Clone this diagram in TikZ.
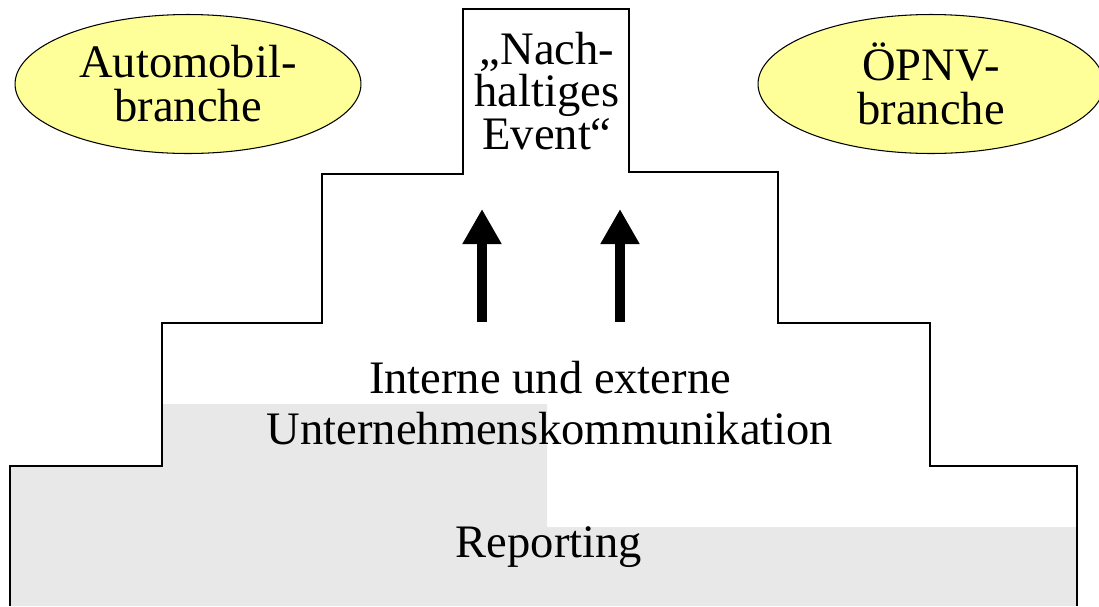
\documentclass[tikz,border=0pt]{standalone}
\usepackage{fontspec}
\setmainfont{Liberation Serif}
\usepackage{tikz}
\usetikzlibrary{positioning}
\usetikzlibrary{shapes,arrows.meta}
\usetikzlibrary{backgrounds}

\definecolor{branchyellow}{RGB}{255,255,153}
\definecolor{basegray}{RGB}{232,232,232}

\tikzset{
  branch/.style={ellipse, draw=black, line width=0.6pt, fill=branchyellow,
    minimum width=6.92cm, minimum height=2.78cm, inner sep=0pt,
    align=center, font=\fontsize{26.5}{25}\selectfont},
  stepline/.style={draw=black, line width=1.5pt, line join=miter},
  steptext/.style={align=center, inner sep=0pt},
  uparrow/.style={line width=6pt, -{Triangle[length=20pt,width=21pt]}},
}

\begin{document}
\begin{tikzpicture}[x=0.02cm,y=-0.02cm]
  \useasboundingbox (0,0) rectangle (1099,606);

  % the two branches
  \node[branch] (auto) at (188,84) {Automobil-\\branche};
  \node[branch] (oepnv) at (931,84) {ÖPNV-\\branche};

\begin{pgfonlayer}{background}
  % grey base, reporting and part of communication
  \fill[basegray]
    (10,606) -- (10,466) -- (162,466) -- (162,404) -- (547,404)
    -- (547,527) -- (1077,527) -- (1077,606) -- cycle;
\end{pgfonlayer}

  % stepped outline
  \draw[stepline]
    (10,606) -- (10,466) -- (162,466) -- (162,323) -- (322,323)
    -- (322,174) -- (463,174) -- (463,9) -- (629,9) -- (629,172)
    -- (778,172) -- (778,323) -- (930,323) -- (930,466)
    -- (1077,466) -- (1077,606);

  \node[steptext, font=\fontsize{26.5}{24.4}\selectfont] (event) at (547,91)
    {„Nach-\\haltiges\\Event“};
  \node[steptext, font=\fontsize{26.5}{29.5}\selectfont] (komm) at (550,403)
    {Interne und externe\\Unternehmenskommunikation};
  \node[steptext, font=\fontsize{26.5}{25}\selectfont] (report) at (549,547)
    {Reporting};

  % arrows up to the event
  \coordinate (la) at (482,322);
  \coordinate (lb) at (482,209);
  \coordinate (ra) at (620,322);
  \coordinate (rb) at (620,209);
  \draw[uparrow] (la) -- (lb);
  \draw[uparrow] (ra) -- (rb);

\end{tikzpicture}
\end{document}
